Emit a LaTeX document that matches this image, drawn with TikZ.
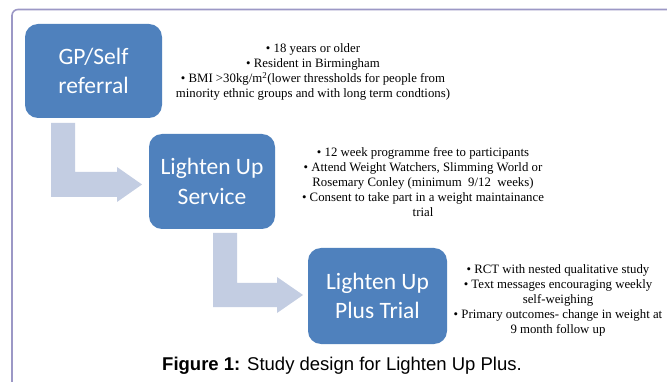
\documentclass[tikz,border=0pt]{standalone}
\usepackage{fontspec}
\setmainfont{Liberation Serif}
\newfontfamily\boxfont{Carlito}
\newfontfamily\capfont{Liberation Sans}
\definecolor{boxblue}{HTML}{4F81BD}
\definecolor{arrowblue}{HTML}{C3CDE2}
\definecolor{framecol}{HTML}{9C98C6}
\tikzset{
  stage/.style={rectangle, rounded corners=13pt, fill=boxblue, text=white,
    align=center, inner sep=0pt, font=\boxfont\fontsize{23.5}{29.5}\selectfont},
  notes/.style={align=center, inner sep=0pt, font=\fontsize{12.8}{15}\selectfont},
  bentarrow/.style={fill=arrowblue, draw=none}
}
\begin{document}
\begin{tikzpicture}[x=1pt,y=-1pt]
\useasboundingbox (0,0) rectangle (667,382);
\fill[white] (0,0) rectangle (667,382);
\begin{scope}
\clip (0,0) rectangle (667,382);
\draw[framecol, line width=1.6pt, rounded corners=6pt] (12,9.5) rectangle (690,400);
\end{scope}
% bent arrows
\fill[bentarrow] (51,123) -- (75,123) -- (75,172) -- (117,172) -- (117,167) -- (142,184.5) -- (117,202) -- (117,197) -- (51,197) -- cycle;
\fill[bentarrow] (213,233) -- (237,233) -- (237,283) -- (277,283) -- (277,277) -- (303,295) -- (277,313) -- (277,307) -- (213,307) -- cycle;
% stages
\node[stage, minimum width=137pt, minimum height=94pt] (b1) at (93.5,71) {GP/Self\\referral};
\node[stage, minimum width=126pt, minimum height=95pt] (b2) at (212,181.5) {Lighten Up\\Service};
\node[stage, minimum width=139pt, minimum height=96pt] (b3) at (377.5,296) {Lighten Up\\Plus Trial};
% notes
\node[notes] (n1) at (313,72) {• 18 years or older\\• Resident in Birmingham\\• BMI >30kg/m\textsuperscript{2}(lower thressholds for people from\\minority ethnic groups and with long term condtions)};
\node[notes] (n2) at (423,182.5) {• 12 week programme free to participants\\• Attend Weight Watchers, Slimming World or\\Rosemary Conley (minimum\ \ 9/12\ \ weeks)\\• Consent to take part in a weight maintainance\\trial};
\node[notes] (n3) at (558,300.5) {• RCT with nested qualitative study\\• Text messages encouraging weekly\\self-weighing\\• Primary outcomes- change in weight at\\9 month follow up};
% caption
\node[inner sep=0pt, font=\capfont\fontsize{18.5}{21}\selectfont] (cap) at (342,366) {\textbf{Figure 1:} Study design for Lighten Up Plus.};
\end{tikzpicture}
\end{document}
